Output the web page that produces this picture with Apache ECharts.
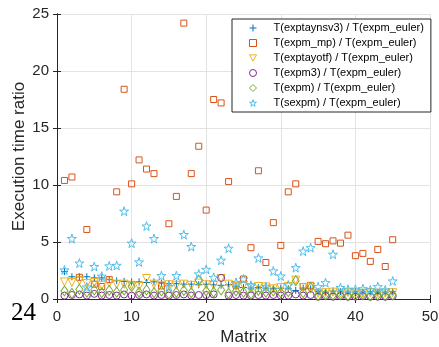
<!DOCTYPE html>
<html>
<head>
<meta charset="utf-8">
<script src="https://cdn.jsdelivr.net/npm/echarts@6/dist/echarts.min.js"></script>
<style>html,body{margin:0;padding:0;background:#fff}#c{width:439px;height:347px}</style>
</head>
<body>
<div id="c"></div>
<script>
const seriesNames = [
  'T(exptaynsv3) / T(expm_euler)',
  'T(expm_mp) / T(expm_euler)',
  'T(exptayotf) / T(expm_euler)',
  'T(expm3) / T(expm_euler)',
  'T(expm) / T(expm_euler)',
  'T(sexpm) / T(expm_euler)'
];
const xTicks = [0, 10, 20, 30, 40, 50];
const yTicks = [0, 5, 10, 15, 20, 25];

const exptaynsv3 = [2.4, 1.95, 1.95, 1.95, 1.85, 1.85, 1.7, 1.6, 1.55, 1.5, 1.5, 1.45, 1.5, 1.4, 1.35, 1.35, 1.3, 1.3, 1.25, 1.3, 1.25, 1.2, 1.25, 1.1, 1.0, 0.95, 1.0, 0.95, 0.9, 0.95, 0.9, 0.75, 0.95, 0.9, 0.65, 0.6, 0.7, 0.65, 0.6, 0.65, 0.6, 0.65, 0.6, 0.6, 0.65];
const expm_mp = [10.4, 10.7, 1.9, 6.1, 1.3, 1.1, 1.7, 9.4, 18.4, 10.1, 12.2, 11.4, 11.0, 1.15, 6.6, 9.0, 24.2, 11.0, 13.4, 7.8, 17.5, 17.2, 10.3, 1.2, 1.75, 4.5, 11.25, 3.2, 6.7, 4.7, 9.4, 10.1, 1.1, 1.2, 5.05, 4.85, 5.1, 4.9, 5.6, 3.8, 4.0, 3.3, 4.35, 2.85, 5.2];
const exptayotf = [1.5, 1.45, 1.6, 1.35, 1.45, 1.2, 1.4, 1.3, 1.3, 1.2, 1.1, 1.8, 1.3, 1.2, 1.25, 1.2, 1.3, 1.2, 1.4, 1.25, 1.2, 1.8, 1.3, 1.1, 1.2, 1.0, 1.1, 1.05, 0.9, 1.0, 1.1, 1.65, 1.0, 1.05, 0.5, 0.55, 0.6, 0.5, 0.55, 0.5, 0.5, 0.55, 0.5, 0.5, 0.55];
const expm3 = [0.3, 0.35, 0.4, 0.3, 0.45, 0.3, 0.35, 0.3, 0.4, 0.3, 0.35, 0.4, 0.3, 0.35, 0.3, 0.35, 0.4, 0.3, 0.35, 0.35, 0.4, 1.85, 0.3, 0.35, 0.3, 0.3, 0.35, 0.3, 0.35, 0.3, 0.3, 0.4, 0.3, 0.35, 0.2, 0.25, 0.2, 0.25, 0.2, 0.2, 0.25, 0.2, 0.2, 0.2, 0.25];
const expm = [0.7, 0.5, 0.85, 0.6, 0.8, 0.55, 0.75, 0.6, 0.8, 1.1, 0.6, 0.8, 0.55, 0.7, 0.45, 0.6, 0.75, 0.55, 1.65, 0.7, 0.6, 0.8, 0.5, 0.7, 0.6, 0.45, 0.75, 0.6, 0.7, 0.55, 0.65, 1.6, 0.55, 1.0, 0.3, 0.4, 0.35, 0.4, 0.3, 0.35, 0.4, 0.3, 0.35, 0.3, 0.35];
const sexpm = [2.55, 5.3, 3.15, 1.05, 2.85, 2.0, 2.9, 2.95, 7.7, 4.9, 3.25, 6.4, 5.3, 2.05, 1.1, 2.05, 5.65, 4.6, 2.2, 2.6, 1.9, 3.4, 4.45, 1.45, 1.75, 1.2, 3.6, 1.08, 2.46, 2.02, 1.23, 2.75, 4.2, 4.5, 1.08, 1.43, 3.92, 1.0, 0.85, 0.85, 0.9, 0.8, 1.08, 0.8, 1.58];

const allValues = [exptaynsv3, expm_mp, exptayotf, expm3, expm, sexpm];
const colors = ['#0072BD', '#D95319', '#EDB120', '#7E2F8E', '#77AC30', '#4DBEEE'];
const symbols = [
  'path://M5,0L5,10M0,5L10,5',
  'rect',
  'path://M0,0L10,0L5,9Z',
  'circle',
  'diamond',
  'path://M50,0L61,35L98,35L68,57L79,91L50,70L21,91L32,57L2,35L39,35Z'
];
const sizes = [7, 6, 8, 7, [7, 10], 9];

const FONT = 'Liberation Sans, Arial, Helvetica, sans-serif';
const AX = '#262626';

const series = allValues.map((vals, k) => ({
  name: seriesNames[k],
  type: 'scatter',
  xAxisIndex: 0, yAxisIndex: 0,
  symbol: symbols[k],
  symbolSize: sizes[k],
  data: vals.map((v, i) => [i + 1, v]),
  itemStyle: { color: 'rgba(0,0,0,0)', borderColor: colors[k], borderWidth: 1, opacity: 1 },
  emphasis: { disabled: true },
  animation: false
}));

const chart = echarts.init(document.getElementById('c'), null, { renderer: 'canvas' });
chart.setOption({
  backgroundColor: '#fff',
  animation: false,
  grid: { left: 57, right: 9, top: 14, bottom: 48, containLabel: false, outerBoundsMode: 'none' },
  xAxis: [{
    type: 'value', min: xTicks[0], max: xTicks[xTicks.length - 1], interval: 10,
    name: 'Matrix', nameLocation: 'middle', nameGap: 30, nameMoveOverlap: false,
    nameTextStyle: { fontFamily: FONT, fontSize: 17, color: AX },
    axisLine: { show: true, lineStyle: { color: AX, width: 1 } },
    axisTick: { show: true, inside: true, length: 4, lineStyle: { color: AX } },
    axisLabel: { fontFamily: FONT, fontSize: 15, color: AX, margin: 10 },
    splitLine: { show: true, lineStyle: { color: '#e3e3e3', width: 1 } }
  }, {
    type: 'value', position: 'top', min: 0, max: 50, interval: 10,
    axisLine: { show: true, lineStyle: { color: AX, width: 1 } },
    axisTick: { show: true, inside: true, length: 4, lineStyle: { color: AX } },
    axisLabel: { show: false }, splitLine: { show: false }
  }],
  yAxis: [{
    type: 'value', min: yTicks[0], max: yTicks[yTicks.length - 1], interval: 5,
    name: 'Execution time ratio', nameLocation: 'middle', nameGap: 29, nameRotate: 90, nameMoveOverlap: false,
    nameTextStyle: { fontFamily: FONT, fontSize: 17, color: AX },
    axisLine: { show: true, lineStyle: { color: AX, width: 1 } },
    axisTick: { show: true, inside: true, length: 4, lineStyle: { color: AX } },
    axisLabel: { fontFamily: FONT, fontSize: 15, color: AX, margin: 8 },
    splitLine: { show: true, lineStyle: { color: '#e3e3e3', width: 1 } }
  }, {
    type: 'value', position: 'right', min: 0, max: 25, interval: 5,
    axisLine: { show: true, lineStyle: { color: AX, width: 1 } },
    axisTick: { show: true, inside: true, length: 4, lineStyle: { color: AX } },
    axisLabel: { show: false }, splitLine: { show: false }
  }],
  legend: {
    show: true, orient: 'vertical', left: 232, top: 19,
    padding: [2, 7, 2, 17], itemGap: 1, itemWidth: 7, itemHeight: 7,
    backgroundColor: '#fff', borderColor: AX, borderWidth: 1,
    textStyle: { fontFamily: FONT, fontSize: 11, color: '#000', lineHeight: 14, padding: [0, 0, 0, 12] },
    data: seriesNames.map((n, k) => ({
      name: n,
      icon: symbols[k],
      itemStyle: { color: 'rgba(0,0,0,0)', borderColor: colors[k], borderWidth: 1 }
    }))
  },
  graphic: [{
    type: 'text', left: 11, top: 301, silent: true,
    style: { text: '24', font: '25px "Liberation Serif", "DejaVu Serif", serif', fill: '#000' }
  }],
  series: series
});
</script>
</body>
</html>
